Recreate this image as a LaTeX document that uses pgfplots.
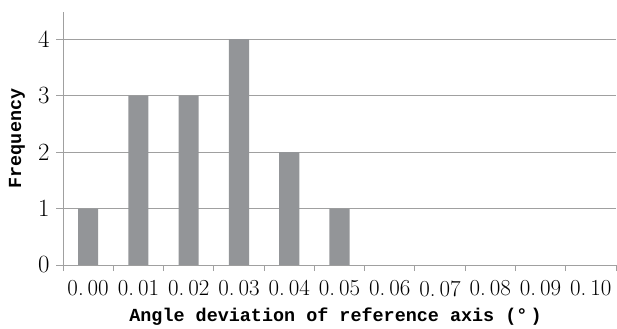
\documentclass[border=0pt]{standalone}
\usepackage{pgfplots}
\pgfplotsset{compat=1.18}
\usepackage{fontspec}
\newfontfamily\labelfont{Liberation Mono}

\definecolor{barfill}{RGB}{147,149,152}
\definecolor{axisgray}{RGB}{160,160,160}

\pgfplotstableread{
x  freq
0  1
1  3
2  3
3  4
4  2
5  1
}\freqdata

\newcommand{\dl}[1]{0.\hspace{4bp}#1}

\begin{document}
\begin{tikzpicture}
\begin{axis}[
  scale only axis,
  width=553bp, height=253bp,
  xmin=-0.5, xmax=10.5,
  ymin=0, ymax=4.48,
  axis x line=bottom, axis y line=left,
  axis line style={axisgray, line width=1pt, -},
  xtick={0,...,10},
  xticklabels={\dl{00},\dl{01},\dl{02},\dl{03},\dl{04},\dl{05},\dl{06},\dl{07},\dl{08},\dl{09},\dl{10}},
  minor xtick={-0.5,0.5,...,10.5},
  x tick style={draw=none},
  minor x tick style={draw=axisgray, line width=1pt},
  minor tick length=6bp,
  ytick={0,...,4},
  y tick style={draw=axisgray, line width=1pt},
  major tick length=7bp,
  tick align=outside,
  ymajorgrids,
  major grid style={axisgray, line width=1pt},
  tick label style={font=\fontsize{23}{23}\selectfont},
  xticklabel style={yshift=-5bp},
  yticklabel style={xshift=-3bp},
  xlabel={Angle deviation of reference axis (°\,)},
  ylabel={Frequency},
  label style={font=\labelfont\bfseries\fontsize{18.5}{18.5}\selectfont},
  xlabel style={at={(rel axis cs:0.5,0)}, anchor=center, yshift=-52bp, xshift=-4bp},
  ylabel style={at={(rel axis cs:0,0.5)}, anchor=center, yshift=46bp},
  clip=false,
]
\addplot[ybar, bar width=0.4, fill=barfill, draw=none] table[x=x, y=freq] {\freqdata};
\coordinate (bl) at (rel axis cs:0,0);
\end{axis}
\pgfresetboundingbox
\path[use as bounding box] ([xshift=-63bp,yshift=-64bp]bl) rectangle ([xshift=554bp,yshift=265bp]bl);
\end{tikzpicture}
\end{document}
